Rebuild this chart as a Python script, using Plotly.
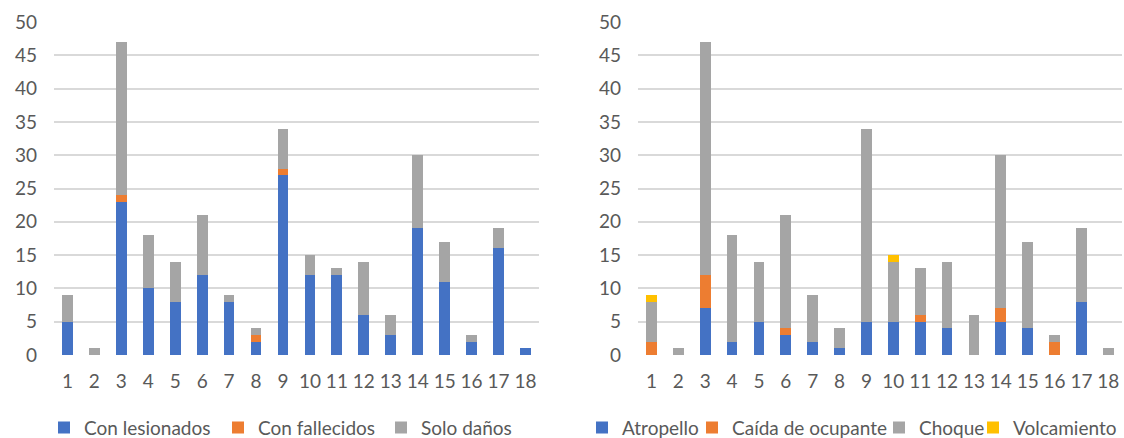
import plotly.graph_objects as go

# Categories shared by both panels
categorias = [str(i) for i in range(1, 19)]

# Panel izquierdo: accidentes según gravedad
con_lesionados = [5, 0, 23, 10, 8, 12, 8, 2, 27, 12, 12, 6, 3, 19, 11, 2, 16, 1]
con_fallecidos = [0, 0, 1, 0, 0, 0, 0, 1, 1, 0, 0, 0, 0, 0, 0, 0, 0, 0]
solo_danos = [4, 1, 23, 8, 6, 9, 1, 1, 6, 3, 1, 8, 3, 11, 6, 1, 3, 0]

# Panel derecho: accidentes según tipo
atropello = [0, 0, 7, 2, 5, 3, 2, 1, 5, 5, 5, 4, 0, 5, 4, 0, 8, 0]
caida_ocupante = [2, 0, 5, 0, 0, 1, 0, 0, 0, 0, 1, 0, 0, 2, 0, 2, 0, 0]
choque = [6, 1, 35, 16, 9, 17, 7, 3, 29, 9, 7, 10, 6, 23, 13, 1, 11, 1]
volcamiento = [1, 0, 0, 0, 0, 0, 0, 0, 0, 1, 0, 0, 0, 0, 0, 0, 0, 0]

AZUL = "#4472C4"
NARANJA = "#ED7D31"
GRIS = "#A5A5A5"
AMARILLO = "#FFC000"
TEXTO = "#595959"
FUENTE = "Lato, 'Open Sans', sans-serif"

ANCHO, ALTO = 1124, 438

# (nombre, valores, color, panel, borde izquierdo de la entrada de leyenda en px)
series = [
    ("Con lesionados", con_lesionados, AZUL, 1, 44),
    ("Con fallecidos", con_fallecidos, NARANJA, 1, 218),
    ("Solo daños", solo_danos, GRIS, 1, 381),
    ("Atropello", atropello, AZUL, 2, 582),
    ("Caída de ocupante", caida_ocupante, NARANJA, 2, 692),
    ("Choque", choque, GRIS, 2, 879),
    ("Volcamiento", volcamiento, AMARILLO, 2, 973),
]

fig = go.Figure()
leyendas = {}
for i, (nombre, valores, color, panel, pos_x) in enumerate(series, start=1):
    ref = "legend" if i == 1 else f"legend{i}"
    sufijo = "" if panel == 1 else "2"
    fig.add_trace(go.Bar(x=categorias, y=valores, name=nombre, marker_color=color,
                         marker_line_width=0, xaxis="x" + sufijo, yaxis="y" + sufijo,
                         legend=ref))
    leyendas[ref] = dict(orientation="h", xanchor="left", yanchor="middle",
                         x=pos_x / ANCHO, y=-0.218,
                         font=dict(family=FUENTE, size=19, color=TEXTO),
                         bgcolor="rgba(0,0,0,0)", itemwidth=30)

eje_x = dict(type="category", showgrid=False, showline=False, zeroline=False, ticks="",
             tickfont=dict(family=FUENTE, size=19, color=TEXTO), ticklabelstandoff=13,
             automargin=False)
eje_y = dict(range=[0, 50], dtick=5, showgrid=True, gridcolor="#D9D9D9", gridwidth=1.5,
             zeroline=False, showline=False, ticks="",
             tickfont=dict(family=FUENTE, size=19, color=TEXTO), ticklabelstandoff=16,
             automargin=False)

fig.update_layout(
    width=ANCHO, height=ALTO,
    margin=dict(l=0, r=0, t=22, b=83, autoexpand=False),
    paper_bgcolor="white", plot_bgcolor="white",
    barmode="stack", bargap=0.6,
    showlegend=True,
    xaxis=dict(eje_x, domain=[0.048, 0.4795], anchor="y"),
    yaxis=dict(eje_y, anchor="x"),
    xaxis2=dict(eje_x, domain=[0.5676, 0.998], anchor="y2"),
    yaxis2=dict(eje_y, anchor="x2"),
    **leyendas,
)

fig.write_html("out.html")
